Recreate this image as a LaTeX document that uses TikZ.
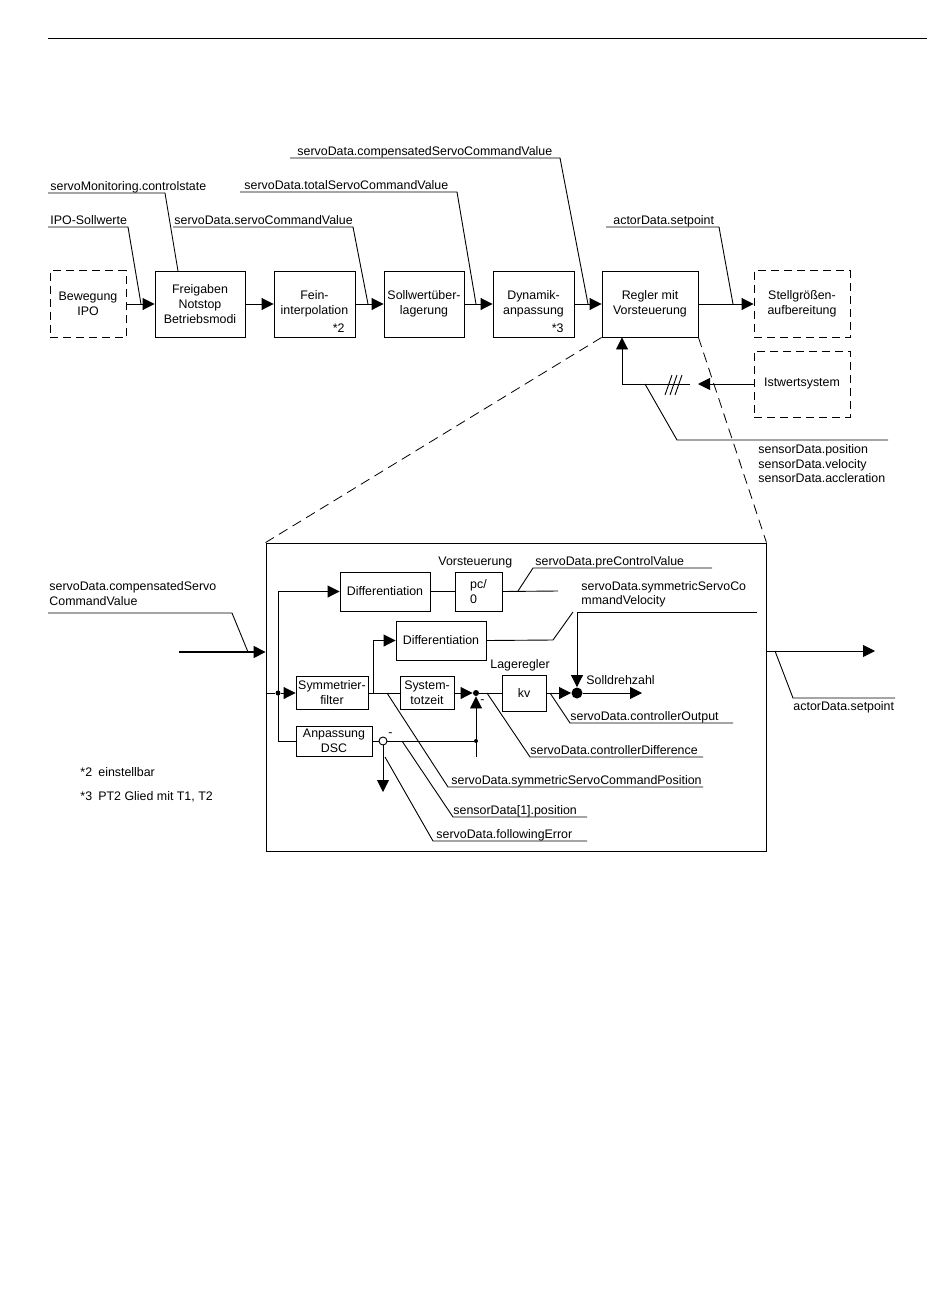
\documentclass[tikz,border=0pt]{standalone}
\usepackage{fontspec}
\setmainfont{Liberation Sans}
\usetikzlibrary{arrows.meta}
\begin{document}
\begin{tikzpicture}[x=1pt,y=-1pt,line width=0.9pt,>={Triangle[length=12pt,width=12pt]},
  font=\fontsize{12.4pt}{15pt}\selectfont,
  blk/.style={draw,align=center,inner sep=1pt},
  ext/.style={blk,dash pattern=on 8pt off 5pt},
  lbl/.style={anchor=base west,inner sep=0pt},
  jdot/.style={circle,fill,inner sep=0pt,minimum size=#1},
  zoomln/.style={line width=0.8pt,dash pattern=on 10pt off 6pt}]
\useasboundingbox (0,0) rectangle (950,1301);
\draw[line width=0.6pt] (48,38) -- (927,38);
\node[ext,minimum width=76pt,minimum height=67pt] (ipo) at (88,304) {Bewegung\\IPO};
\node[blk,minimum width=90pt,minimum height=66pt] (frei) at (200,304) {Freigaben\\Notstop\\Betriebsmodi};
\node[blk,minimum width=81pt,minimum height=66pt] (fein) at (314.5,304) {Fein-\\interpolation};
\node[blk,minimum width=80pt,minimum height=66pt] (soll) at (424,304) {Sollwertüber-\\lagerung};
\node[blk,minimum width=81pt,minimum height=66pt] (dyn) at (533.5,304) {Dynamik-\\anpassung};
\node[blk,minimum width=96pt,minimum height=66pt] (regl) at (650,304) {Regler mit\\Vorsteuerung};
\node[ext,minimum width=96pt,minimum height=67pt] (stell) at (802,304) {Stellgrößen-\\aufbereitung};
\node[ext,minimum width=96pt,minimum height=66pt] (ist) at (802,384) {Istwertsystem};
\node[lbl,anchor=base east] at (345,332.5) {*2};
\node[lbl,anchor=base east] at (564,332.5) {*3};
\draw[->] (ipo) -- (frei);
\draw[->] (frei) -- (fein);
\draw[->] (fein) -- (soll);
\draw[->] (soll) -- (dyn);
\draw[->] (dyn) -- (regl);
\draw[->] (regl) -- (stell);
\coordinate (fbin) at (698,384);
\coordinate (fbout) at (690,384);
\coordinate (fbup) at (622,384);
\draw[->] (ist) -- (fbin);
\draw[->] (fbout) -- (fbup) -- (fbup |- regl.south);
\foreach \k in {0,5,10} \draw (665+\k,395) -- (672+\k,375);
\node[lbl] (lipo) at (50,224.5) {IPO-Sollwerte};
\draw (48,227) -- (128,227) -- (141,304);
\node[lbl] (lmon) at (50,190.5) {servoMonitoring.controlstate};
\draw (48,193) -- (165,193) -- (178,271);
\node[lbl] (lcmd) at (174,224.5) {servoData.servoCommandValue};
\draw (173,227) -- (353,227) -- (368,304);
\node[lbl] (ltot) at (244,189.5) {servoData.totalServoCommandValue};
\draw (240,192) -- (457,192) -- (476,304);
\node[lbl] (lcomp) at (297,155.5) {servoData.compensatedServoCommandValue};
\draw (290,158) -- (560,158) -- (588,304);
\node[lbl] (lact) at (613,224.5) {actorData.setpoint};
\draw (606,227) -- (719,227) -- (733,304);
\node[anchor=west,align=left,inner sep=0pt,font=\fontsize{12.4pt}{14.5pt}\selectfont] (lsens) at (758,464) {sensorData.position\\sensorData.velocity\\sensorData.accleration};
\draw (645,384) -- (677,440) -- (888,440);
\node[draw,minimum width=500pt,minimum height=308pt,inner sep=0pt] (zoom) at (516,697) {};
\draw[zoomln] (regl.south west) -- (zoom.north west);
\draw[zoomln] (regl.south east) -- (zoom.north east);
\node[anchor=west,align=left,inner sep=0pt] (lin) at (49,594) {servoData.compensatedServo\\CommandValue};
\draw (48,613) -- (232,613) -- (248,652);
\coordinate (inA) at (179,652);
\draw[->,line width=1.6pt] (inA) -- (zoom.west |- inA);
\node[blk,minimum width=90pt,minimum height=39pt] (diffa) at (385,591.5) {Differentiation};
\node[blk,minimum width=47pt,minimum height=39pt,align=left] (pc) at (478.5,591.5) {pc/\\0};
\node[lbl] at (438,565.5) {Vorsteuerung};
\node[blk,minimum width=90pt,minimum height=39pt] (diffb) at (441,640.5) {Differentiation};
\node[blk,minimum width=72pt,minimum height=33pt] (symf) at (332,693) {Symmetrier-\\filter};
\node[blk,minimum width=54pt,minimum height=33pt] (tot) at (427,693) {System-\\totzeit};
\node[blk,minimum width=44pt,minimum height=36pt] (kv) at (524,693) {kv};
\node[blk,minimum width=76pt,minimum height=30pt] (dsc) at (334,741) {Anpassung\\DSC};
\node[lbl] at (490,668.5) {Lageregler};
\node[lbl] at (586,684.5) {Solldrehzahl};
\node[jdot=5pt] (d1) at (278,693) {};
\node[jdot=6pt] (s1) at (476,693) {};
\node[jdot=11pt] (s2) at (577,693) {};
\node[jdot=4pt] (s3) at (476,741) {};
\node[draw,circle,fill=white,inner sep=0pt,minimum size=8pt] (c1) at (383,741) {};
\node[lbl] at (480,703) {-};
\node[lbl] at (388,736) {-};
\draw (zoom.west |- d1) -- (d1);
\draw[->] (d1) -- (symf);
\draw[->] (d1 |- diffa) -- (diffa);
\draw (d1 |- diffa) -- (d1 |- dsc) -- (dsc);
\coordinate (br) at (373,693);
\draw (symf) -- (tot);
\draw[->] (br) |- (diffb);
\draw[->] (tot) -- (s1);
\draw (s1) -- (kv);
\coordinate (s3b) at (476,757);
\draw[->] (s3b) -- (s1);
\draw[->] (kv) -- (s2);
\coordinate (vout) at (642,693);
\draw[->] (s2) -- (vout);
\coordinate (velo) at (577,612);
\draw[->] (velo) -- (s2);
\draw (dsc) -- (c1);
\draw (c1) -- (s3);
\coordinate (ferr) at (383,792);
\draw[->] (c1) -- (ferr);
\draw (diffa) -- (pc);
\draw (pc.east) -- (558,591);
\draw (diffb.east) -- (553,640) -- (573,612);
\node[lbl] at (535,565.5) {servoData.preControlValue};
\draw (518,591) -- (533,568) -- (712,568);
\node[anchor=west,align=left,inner sep=0pt,font=\fontsize{12.4pt}{14pt}\selectfont] at (581,594) {servoData.symmetricServoCo\\mmandVelocity};
\draw (velo) -- (757,612);
\coordinate (vsoll) at (875,651);
\draw[->] (zoom.east |- vsoll) -- (vsoll);
\node[lbl] at (793,710.5) {actorData.setpoint};
\draw (775,651) -- (793,698) -- (895,698);
\node[lbl] at (570,720.5) {servoData.controllerOutput};
\draw (550,693) -- (570,723) -- (733,723);
\node[lbl] at (530,754.5) {servoData.controllerDifference};
\draw (487,693) -- (530,757) -- (703,757);
\node[lbl] at (451,784.5) {servoData.symmetricServoCommandPosition};
\draw (387,693) -- (448,787) -- (703,787);
\node[lbl] at (453,814.5) {sensorData[1].position};
\draw (402,741) -- (453,817) -- (587,817);
\node[lbl] at (436,838) {servoData.followingError};
\draw (385,757) -- (433,841) -- (587,841);
\node[lbl] at (80,776.5) {*2\enspace einstellbar};
\node[lbl] at (80,800.5) {*3\enspace PT2 Glied mit T1, T2};
\end{tikzpicture}
\end{document}
